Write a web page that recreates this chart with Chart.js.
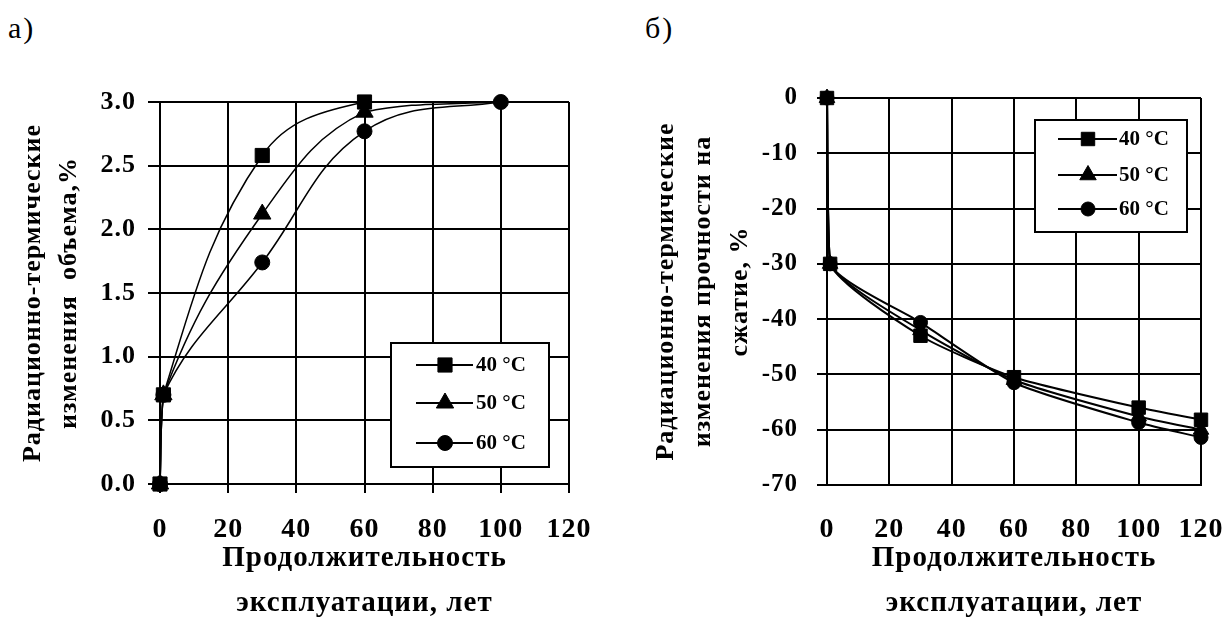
<!DOCTYPE html>
<html><head><meta charset="utf-8">
<script src="https://cdn.jsdelivr.net/npm/chart.js@4.4.1/dist/chart.umd.min.js"></script>
<style>
html,body{margin:0;padding:0;background:#fff;overflow:hidden;width:1225px;height:617px;position:relative;}
canvas{position:absolute;top:0;}
#cA{left:0;}
#cB{left:600px;}
.lbl{position:absolute;font-family:"Liberation Serif","Times New Roman",serif;font-size:30px;letter-spacing:2px;color:#000;line-height:1;white-space:nowrap;}
</style></head><body>
<div class="lbl" style="left:8px;top:13px">а)</div>
<div class="lbl" style="left:645px;top:13px">б)</div>
<canvas id="cA" width="620" height="640"></canvas>
<canvas id="cB" width="660" height="640"></canvas>
<script>
// ---------- data ----------
const temps = ['40 °C', '50 °C', '60 °C'];

// а) radiation-thermal volume change, %
const volYears = [0, 1, 30, 60, 100, 120];
const vol40 = [0, 0.7, 2.58, 3.0, 3.0, 3.0];
const vol50 = [0, 0.7, 2.12, 2.92, 3.0, 3.0];
const vol60 = [0, 0.7, 1.74, 2.77, 3.0, 3.0];

// б) radiation-thermal compressive strength change, %
const strYears = [0, 1, 30, 60, 100, 120];
const str40 = [0, -30, -43, -50.5, -56, -58.2];
const str50 = [0, -30, -42, -51, -57.6, -60];
const str60 = [0, -30, -40.6, -51.5, -58.7, -61.4];

const xTitle = ['Продолжительность', 'эксплуатации, лет'];
const volTitle = ['Радиационно-термические', 'изменения  объема,%'];
const strTitle = ['Радиационно-термические', 'изменения прочности на', 'сжатие, %'];

// ---------- helpers ----------
const FAM = '"Liberation Serif","Times New Roman",serif';
const toPts = (xs, ys) => xs.map((x, i) => ({x: x, y: ys[i]}));

const spacing = {
  id: 'spacing',
  beforeUpdate(c) { c.ctx.letterSpacing = '1px'; },
  beforeDraw(c) { c.ctx.letterSpacing = '1px'; }
};

function marker(ctx, style, r, x, y) {
  if (Chart.helpers && Chart.helpers.drawPoint) {
    Chart.helpers.drawPoint(ctx, {pointStyle: style, radius: r, borderWidth: 1, rotation: 0}, x, y);
    return;
  }
  ctx.beginPath();
  if (style === 'rect') { const s = r * Math.SQRT1_2; ctx.rect(x - s, y - s, 2 * s, 2 * s); }
  else if (style === 'triangle') { ctx.moveTo(x, y - r); ctx.lineTo(x + r * 0.866, y + r / 2); ctx.lineTo(x - r * 0.866, y + r / 2); ctx.closePath(); }
  else ctx.arc(x, y, r, 0, Math.PI * 2);
  ctx.fill(); ctx.stroke();
}

const boxLegend = {
  id: 'boxLegend',
  afterDatasetsDraw(chart, args, o) {
    const ctx = chart.ctx;
    ctx.save();
    ctx.letterSpacing = '0px';
    ctx.fillStyle = '#fff'; ctx.strokeStyle = '#000'; ctx.lineWidth = 2;
    ctx.fillRect(o.x, o.y, o.w, o.h);
    ctx.strokeRect(o.x, o.y, o.w, o.h);
    chart.data.datasets.forEach((ds, i) => {
      const cy = o.y + o.rows[i];
      ctx.strokeStyle = '#000'; ctx.lineWidth = 2;
      ctx.beginPath(); ctx.moveTo(o.x + o.l1, cy); ctx.lineTo(o.x + o.l2, cy); ctx.stroke();
      ctx.fillStyle = '#000'; ctx.lineWidth = 1;
      marker(ctx, ds.pointStyle, ds.legendR, o.x + o.mx, cy);
      ctx.fillStyle = '#000';
      ctx.font = 'bold 21px ' + FAM;
      ctx.textAlign = 'left'; ctx.textBaseline = 'middle';
      ctx.fillText(ds.label, o.x + o.tx, cy + 1);
    });
    ctx.restore();
  }
};

function ds(label, pts, style, r, lw, tension, radii) {
  return {
    label: label, data: pts, pointStyle: style, legendR: r,
    pointRadius: radii, pointBorderWidth: 1,
    pointBackgroundColor: '#000', pointBorderColor: '#000',
    borderColor: '#000', borderWidth: lw, backgroundColor: '#000',
    tension: tension, fill: false, clip: false
  };
}

const tickFont = (s) => ({family: FAM, size: s, weight: 'bold', lineHeight: 1});

// ---------- chart а) ----------
new Chart(document.getElementById('cA'), {
  type: 'line',
  data: {
    datasets: [
      ds(temps[0], toPts(volYears, vol40), 'rect', 10, 1.5, 0.4, [10, 10, 10, 10, 0, 0]),
      ds(temps[1], toPts(volYears, vol50), 'triangle', 10, 1.5, 0.4, [10, 10, 10, 10, 0, 0]),
      ds(temps[2], toPts(volYears, vol60), 'circle', 7.5, 1.5, 0.4, [7.5, 7.5, 7.5, 7.5, 7.5, 0])
    ]
  },
  options: {
    responsive: false, animation: false, events: [],
    layout: {padding: {top: 102, right: 51, left: 0, bottom: 0}},
    plugins: {
      legend: {display: false}, tooltip: {enabled: false},
      boxLegend: {x: 391, y: 343, w: 158, h: 124, rows: [22, 60, 100], l1: 25, l2: 82, mx: 54, tx: 85}
    },
    scales: {
      x: {
        type: 'linear', min: 0, max: 120,
        ticks: {stepSize: 20, autoSkip: false, maxRotation: 0, padding: 23, color: '#000', font: tickFont(28)},
        grid: {color: '#000', lineWidth: 2, tickLength: 9, drawTicks: true},
        border: {color: '#000', width: 2},
        title: {display: true, text: xTitle, color: '#000', font: {family: FAM, size: 29, weight: 'bold', lineHeight: '45px'}, padding: {top: 0, bottom: 13.5}},
        afterFit(s) { s.height = 156; }
      },
      y: {
        type: 'linear', min: 0, max: 3,
        ticks: {stepSize: 0.5, padding: 12, color: '#000', font: tickFont(26), callback: v => Number(v).toFixed(1)},
        grid: {color: '#000', lineWidth: 2, tickLength: 12, drawTicks: true},
        border: {color: '#000', width: 2},
        title: {display: true, text: volTitle, color: '#000', font: {family: FAM, size: 26, weight: 'bold', lineHeight: '36px'}, padding: {top: 15.5, bottom: 0}},
        afterFit(s) { s.width = 160; }
      }
    }
  },
  plugins: [spacing, boxLegend]
});

// ---------- chart б) ----------
new Chart(document.getElementById('cB'), {
  type: 'line',
  data: {
    datasets: [
      ds(temps[0], toPts(strYears, str40), 'rect', 9.5, 2, 0.2, 9.5),
      ds(temps[1], toPts(strYears, str50), 'triangle', 9.5, 2, 0.2, 9),
      ds(temps[2], toPts(strYears, str60), 'circle', 7, 2, 0.2, 7)
    ]
  },
  options: {
    responsive: false, animation: false, events: [],
    layout: {padding: {top: 98, right: 59, left: 0, bottom: 0}},
    plugins: {
      legend: {display: false}, tooltip: {enabled: false},
      boxLegend: {x: 435, y: 120, w: 152, h: 112, rows: [19, 55, 89], l1: 23, l2: 82, mx: 53, tx: 84}
    },
    scales: {
      x: {
        type: 'linear', min: 0, max: 120,
        ticks: {stepSize: 20, autoSkip: false, maxRotation: 0, padding: 31, color: '#000', font: tickFont(28)},
        grid: {color: '#000', lineWidth: 2, drawTicks: false},
        border: {color: '#000', width: 2},
        title: {display: true, text: xTitle, color: '#000', font: {family: FAM, size: 29, weight: 'bold', lineHeight: '45px'}, padding: {top: 0, bottom: 13.5}},
        afterFit(s) { s.height = 155; }
      },
      y: {
        type: 'linear', min: -70, max: 0,
        ticks: {stepSize: 10, padding: 19, color: '#000', font: tickFont(25)},
        grid: {color: '#000', lineWidth: 2, tickLength: 10, drawTicks: true},
        border: {color: '#000', width: 2},
        title: {display: true, text: strTitle, color: '#000', font: {family: FAM, size: 26, weight: 'bold', lineHeight: '37px'}, padding: {top: 48, bottom: 0}},
        afterFit(s) { s.width = 227; }
      }
    }
  },
  plugins: [spacing, boxLegend]
});
</script>
</body></html>
